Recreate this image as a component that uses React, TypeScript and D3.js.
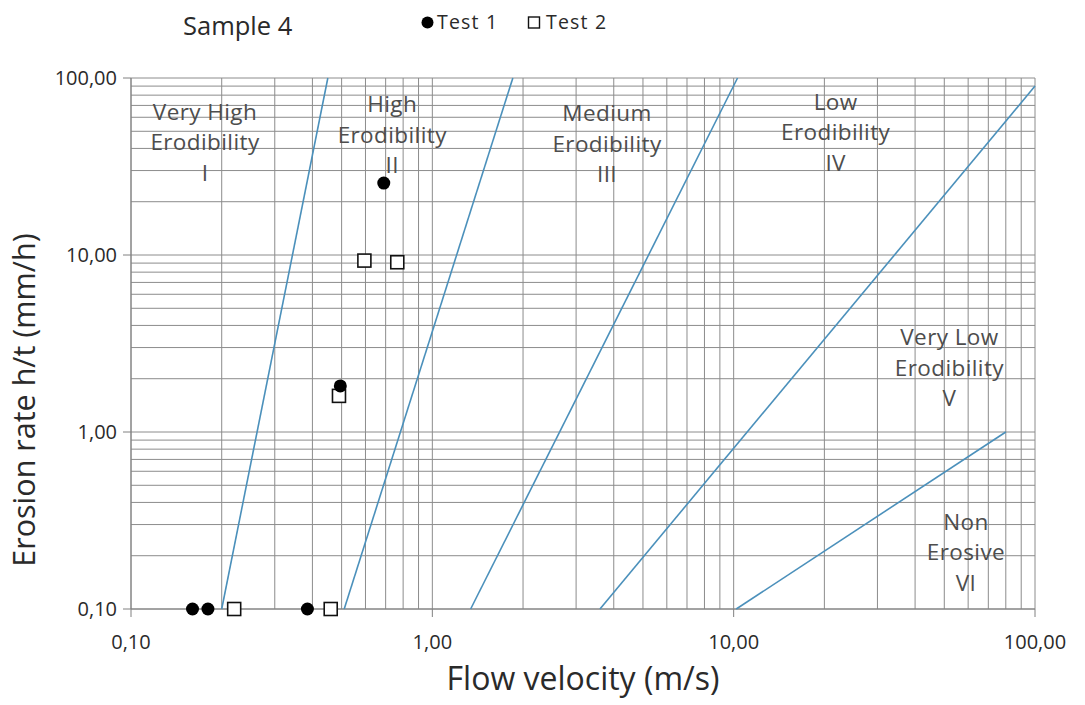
import * as d3 from 'd3';
import React from 'react';

// measured points (flow velocity m/s, erosion rate mm/h)
const test1 = [
  { v: 0.16, e: 0.1 },
  { v: 0.18, e: 0.1 },
  { v: 0.385, e: 0.1 },
  { v: 0.495, e: 1.82 },
  { v: 0.69, e: 25.5 },
];
const test2 = [
  { v: 0.22, e: 0.1 },
  { v: 0.46, e: 0.1 },
  { v: 0.49, e: 1.6 },
  { v: 0.595, e: 9.3 },
  { v: 0.765, e: 9.1 },
];

// erodibility category boundaries (start / end points)
const boundaries: [number, number][][] = [
  [[0.2, 0.1], [0.45, 100]],
  [[0.51, 0.1], [1.85, 100]],
  [[1.34, 0.1], [10.3, 100]],
  [[3.6, 0.1], [100, 90]],
  [[10.2, 0.1], [80, 1.0]],
];

// zone labels: centre velocity and first-line baseline rate
const zones = [
  { v: 0.176, e: 58, lines: ['Very High', 'Erodibility', 'I'] },
  { v: 0.736, e: 64, lines: ['High', 'Erodibility', 'II'] },
  { v: 3.8, e: 57, lines: ['Medium', 'Erodibility', 'III'] },
  { v: 21.8, e: 66, lines: ['Low', 'Erodibility', 'IV'] },
  { v: 52, e: 3.1, lines: ['Very Low', 'Erodibility', 'V'] },
  { v: 59, e: 0.28, lines: ['Non', 'Erosive', 'VI'] },
];

const xTicks = [0.1, 1, 10, 100];
const yTicks = [0.1, 1, 10, 100];
const tickLabel = (d: number) => d.toFixed(2).replace('.', ',');

const width = 1085;
const height = 705;
const margin = { top: 78, right: 50, bottom: 96, left: 131 };
const font = '"Open Sans", "Noto Sans", sans-serif';
const gridColor = '#8c8c8c';
const lineColor = '#4b90bb';

export default function App() {
  const x = d3.scaleLog().domain([0.1, 100]).range([margin.left, width - margin.right]);
  const y = d3.scaleLog().domain([0.1, 100]).range([height - margin.bottom, margin.top]);

  // 1..9 per decade grid lines
  const minor = (lo: number, hi: number) => {
    const out: number[] = [];
    for (let p = lo; p < hi; p *= 10) for (let k = 1; k < 10; k++) out.push(p * k);
    out.push(hi);
    return out;
  };
  const xGrid = minor(0.1, 100);
  const yGrid = minor(0.1, 100);

  const line = d3.line<[number, number]>()
    .x(d => x(d[0]))
    .y(d => y(d[1]));

  const [x0, x1] = x.range();
  const [y0, y1] = y.range();

  return (
    <div style={{ position: 'absolute', left: 0, top: 0 }}>
      <svg width={width} height={height} style={{ display: 'block', background: '#fff' }}>
        {/* grid */}
        <g stroke={gridColor} strokeWidth={1}>
          {xGrid.map(d => (
            <line key={'x' + d} x1={x(d)} x2={x(d)} y1={y1} y2={y0} />
          ))}
          {yGrid.map(d => (
            <line key={'y' + d} x1={x0} x2={x1} y1={y(d)} y2={y(d)} />
          ))}
        </g>

        {/* axes */}
        <g stroke="#808080" strokeWidth={1}>
          <line x1={x0} x2={x0} y1={y1} y2={y0} />
          <line x1={x0} x2={x1} y1={y0} y2={y0} />
          {yTicks.map(d => (
            <line key={'yt' + d} x1={x0 - 8} x2={x0} y1={y(d)} y2={y(d)} />
          ))}
          {xTicks.map(d => (
            <line key={'xt' + d} x1={x(d)} x2={x(d)} y1={y0} y2={y0 + 8} />
          ))}
        </g>
        <g fontFamily={font} fontSize={20} fill="#2a2a2a">
          {yTicks.map(d => (
            <text key={'yl' + d} x={x0 - 14} y={y(d)} dy="0.36em" textAnchor="end">
              {tickLabel(d)}
            </text>
          ))}
          {xTicks.map(d => (
            <text key={'xl' + d} x={x(d)} y={y0 + 40} textAnchor="middle">
              {tickLabel(d)}
            </text>
          ))}
        </g>

        {/* boundaries */}
        <g fill="none" stroke={lineColor} strokeWidth={1.6}>
          {boundaries.map((b, i) => (
            <path key={i} d={line(b) || ''} />
          ))}
        </g>

        {/* zone labels */}
        <g fontFamily={font} fontSize={22.5} fill="#4d4d4d" textAnchor="middle" letterSpacing={0.4}>
          {zones.map((z, i) => (
            <text key={i} x={x(z.v)} y={y(z.e)}>
              {z.lines.map((l, j) => (
                <tspan key={j} x={x(z.v)} dy={j === 0 ? 0 : 30.5}>{l}</tspan>
              ))}
            </text>
          ))}
        </g>

        {/* points */}
        <g>
          {test2.map((d, i) => (
            <rect key={'s' + i} x={x(d.v) - 6.5} y={y(d.e) - 6.5} width={13} height={13}
              fill="#fff" stroke="#111" strokeWidth={1.6} />
          ))}
          {test1.map((d, i) => (
            <circle key={'c' + i} cx={x(d.v)} cy={y(d.e)} r={6.5} fill="#000" />
          ))}
        </g>

        {/* title & legend */}
        <text x={183} y={35} fontFamily={font} fontSize={25.5} fill="#2a2a2a">Sample 4</text>
        <g fontFamily={font} fontSize={19.5} fill="#2a2a2a" letterSpacing={1.2}>
          <circle cx={427.5} cy={22.5} r={6} fill="#000" />
          <text x={437} y={29}>Test 1</text>
          <rect x={528.5} y={17} width={11} height={11} fill="#fff" stroke="#111" strokeWidth={1.4} />
          <text x={546} y={29}>Test 2</text>
        </g>

        {/* axis titles */}
        <text x={583} y={690} textAnchor="middle" fontFamily={font} fontSize={32} fill="#2a2a2a">
          Flow velocity (m/s)
        </text>
        <text transform="translate(35,400) rotate(-90)" textAnchor="middle"
          fontFamily={font} fontSize={30.5} fill="#2a2a2a">
          Erosion rate h/t (mm/h)
        </text>
      </svg>
    </div>
  );
}
